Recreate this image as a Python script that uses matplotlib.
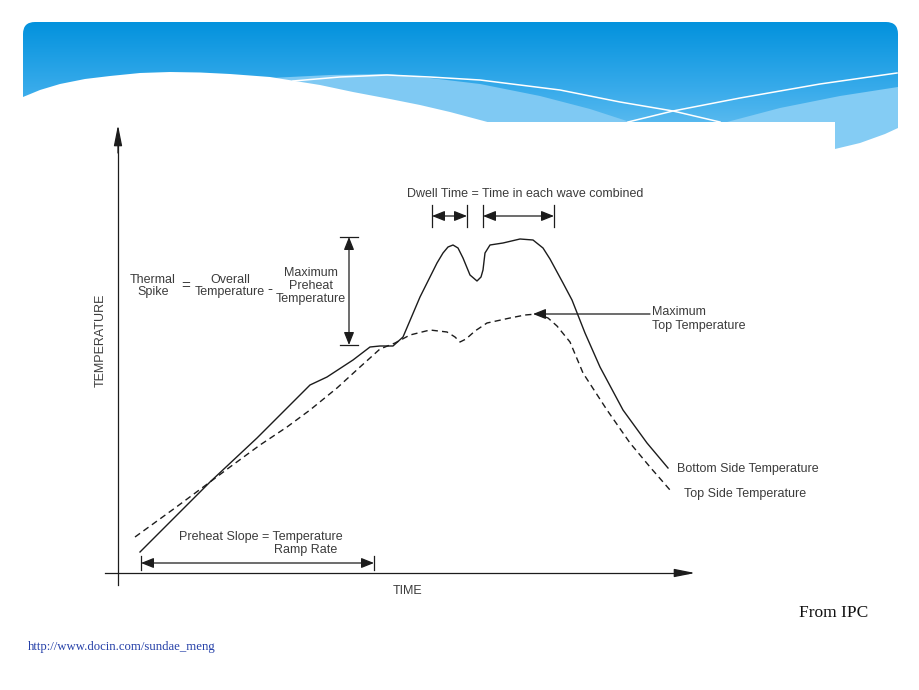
import numpy as np
import matplotlib.pyplot as plt
from matplotlib.patches import FancyBboxPatch, Polygon
from matplotlib.colors import LinearSegmentedColormap

plt.rcParams['font.family'] = ['Liberation Sans', 'DejaVu Sans']

# wave soldering profile (arbitrary time / temperature units)
bottom_time = [22, 57, 92, 139, 172, 192, 209, 235, 252, 262, 275, 285, 302, 319, 325, 330, 335,
               340, 345, 352, 359, 363, 365, 367, 372, 385, 402, 415, 425, 432, 445, 454,
               467, 482, 505, 529, 550]
bottom_temp = [21, 56, 91, 135, 168, 188, 196, 213, 226, 227, 227, 236, 276, 310, 320, 326, 328,
               325, 315, 298, 292, 296, 303, 320, 328, 330, 334, 333, 325, 314, 290, 273,
               240, 206, 163, 130, 105]
top_time = [17, 57, 92, 112, 142, 169, 192, 219, 242, 262, 277, 292, 312, 329, 337, 342,
            348, 357, 369, 392, 407, 419, 430, 439, 452, 465, 489, 512, 532, 552]
top_temp = [36, 65, 91, 106, 128, 146, 163, 185, 206, 224, 230, 238, 243, 241, 236, 231,
            234, 242, 250, 255, 258, 259, 255, 247, 231, 200, 163, 130, 106, 83]

# annotation anchors (same units)
spike_time, spike_low, spike_high = 231, 228, 336
dwell_spans = [(314, 349), (365, 436)]
dwell_level = 357
preheat_span = (23, 256)
preheat_level = 10
max_top_time, max_top_temp = 415, 259

INK = '#1c1c1c'
TXT = '#3c3c3c'

fig = plt.figure(figsize=(9.2, 6.9), dpi=100)

# ---- slide background -------------------------------------------------
bg = fig.add_axes([0, 0, 1, 1])
bg.set_xlim(0, 920)
bg.set_ylim(690, 0)
bg.axis('off')

band = FancyBboxPatch((23, 22), 875, 140, boxstyle='round,pad=0,rounding_size=12',
                      facecolor='none', edgecolor='none')
bg.add_patch(band)
cmap = LinearSegmentedColormap.from_list('band', ['#0392dd', '#3aaceb', '#7cc9f3'])
grad = np.linspace(0, 1, 200).reshape(-1, 1)
im = bg.imshow(grad, cmap=cmap, extent=[23, 898, 162, 22], aspect='auto', origin='upper')
im.set_clip_path(band)

bg.add_patch(Polygon([(270, 78), (330, 75), (387, 74), (430, 78), (480, 84), (540, 96),
                      (590, 109), (630, 122), (630, 135), (270, 135)], closed=True,
                     facecolor='#7fc9f3', edgecolor='none'))
bg.add_patch(Polygon([(727, 122), (780, 108), (840, 96), (898, 87), (898, 160), (727, 160)],
                     closed=True, facecolor='#84ccf4', edgecolor='none'))
bg.add_patch(Polygon([(23, 97), (40, 90), (60, 84), (85, 79), (110, 76), (140, 73), (170, 72),
                      (200, 72.5), (230, 74), (270, 77), (320, 85), (353, 92), (390, 99),
                      (420, 105), (450, 112), (480, 120), (495, 124), (495, 170), (23, 170)],
                     closed=True, facecolor='white', edgecolor='none'))
bg.plot([293, 340, 387, 430, 480, 560, 620, 673, 720], [81, 77, 75, 77, 80, 90, 102, 111, 122],
        color='white', lw=1.1)
bg.plot([628, 673, 740, 820, 897], [122, 111, 98, 84, 73], color='white', lw=1.1)
bg.add_patch(Polygon([(0, 122), (835, 122), (835, 690), (0, 690)], closed=True,
                     facecolor='white', edgecolor='none'))
bg.add_patch(Polygon([(835, 149), (860, 143), (885, 134), (898, 128), (920, 128), (920, 690),
                      (835, 690)], closed=True, facecolor='white', edgecolor='none'))

bg.text(799, 613, 'From IPC', family=['Liberation Serif', 'DejaVu Serif'], fontsize=12.5,
        color='#111111', va='center', ha='left')
bg.text(28, 647, 'http://www.docin.com/sundae_meng', family=['Liberation Serif', 'DejaVu Serif'],
        fontsize=9.2, color='#2540a8', va='center', ha='left')

# ---- diagram ------------------------------------------------------------
ax = fig.add_axes([98 / 920, 90 / 690, 620 / 920, 485 / 690])
ax.set_xlim(-20, 600)
ax.set_ylim(-27, 458)
ax.axis('off')
ax.patch.set_alpha(0)

ax.plot(bottom_time, bottom_temp, color=INK, lw=1.0, solid_joinstyle='round')
ax.plot(top_time, top_temp, color=INK, lw=1.0, dashes=(4.5, 3))

def arrow(p0, p1, style='<|-|>', hl=0.55, hw=0.22):
    ax.annotate('', xy=p1, xytext=p0,
                arrowprops=dict(arrowstyle=f'{style},head_length={hl},head_width={hw}',
                                color=INK, lw=0.9, shrinkA=0, shrinkB=0, mutation_scale=14),
                annotation_clip=False)

# axes with arrow heads
ax.plot([-13, 570], [0, 0], color=INK, lw=0.9, clip_on=False)
arrow((560, 0), (577, 0), style='-|>', hl=0.9, hw=0.18)
ax.plot([0, 0], [-12, 430], color=INK, lw=0.9, clip_on=False)
arrow((0, 420), (0, 448), style='-|>', hl=0.9, hw=0.18)

ax.text(290, -18, 'TIME', fontsize=9, color=TXT, ha='center', va='center')
ax.text(-17, 233, 'TEMPERATURE', fontsize=9, color=TXT, ha='center', va='center', rotation=90)

# thermal spike
for lvl in (spike_low, spike_high):
    ax.plot([spike_time - 9, spike_time + 9], [lvl, lvl], color=INK, lw=0.9)
arrow((spike_time, spike_low), (spike_time, spike_high))
ax.text(35, 287, 'Thermal\nSpike', fontsize=9, color=TXT, ha='center', va='center', linespacing=1.1)
ax.text(68, 287, '=', fontsize=11, color=TXT, ha='center', va='center')
ax.text(112, 287, 'Overall\nTemperature', fontsize=9, color=TXT, ha='center', va='center', linespacing=1.1)
ax.text(152, 284, '-', fontsize=11, color=TXT, ha='center', va='center')
ax.text(193, 287, 'Maximum\nPreheat\nTemperature', fontsize=9, color=TXT, ha='center', va='center',
        linespacing=1.1)

# dwell time
for a, b in dwell_spans:
    for t in (a, b):
        ax.plot([t, t], [dwell_level - 11, dwell_level + 11], color=INK, lw=0.9)
    arrow((a, dwell_level), (b, dwell_level))
ax.text(289, 379, 'Dwell Time = Time in each wave combined', fontsize=9, color=TXT,
        ha='left', va='center')

# maximum top temperature
arrow((532, max_top_temp), (max_top_time, max_top_temp), style='-|>')
ax.text(534, 254, 'Maximum\nTop Temperature', fontsize=9, color=TXT, ha='left', va='center',
        linespacing=1.25)

ax.text(559, 104, 'Bottom Side Temperature', fontsize=9, color=TXT, ha='left', va='center')
ax.text(566, 79, 'Top Side Temperature', fontsize=9, color=TXT, ha='left', va='center')

# preheat slope
for t in preheat_span:
    ax.plot([t, t], [preheat_level - 7, preheat_level + 7], color=INK, lw=0.9)
arrow((preheat_span[0], preheat_level), (preheat_span[1], preheat_level))
ax.text(61, 36, 'Preheat Slope = Temperature', fontsize=9, color=TXT, ha='left', va='center')
ax.text(188, 23, 'Ramp Rate', fontsize=9, color=TXT, ha='center', va='center')

fig.savefig('out.png', dpi=100)
